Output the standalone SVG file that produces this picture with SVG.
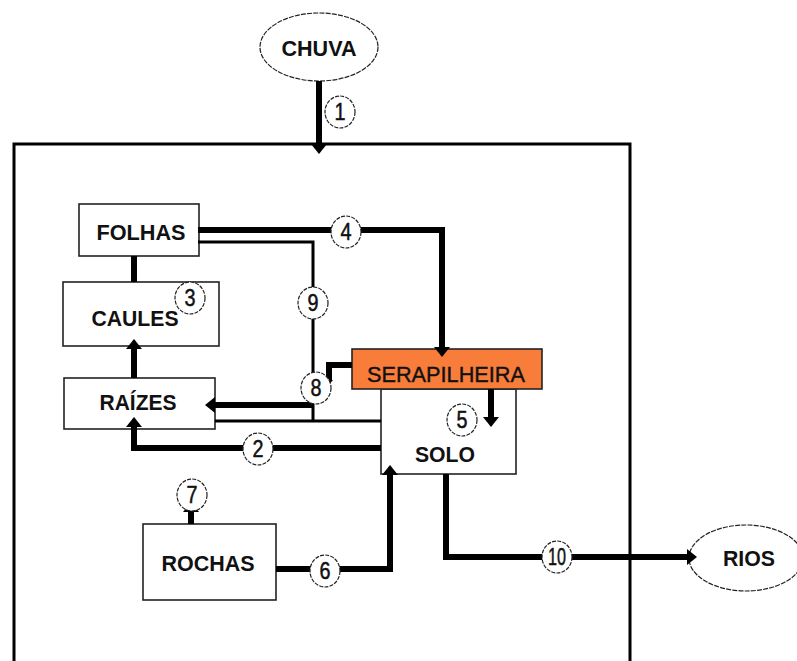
<svg xmlns="http://www.w3.org/2000/svg" width="797" height="661" viewBox="0 0 797 661">
<style>
.bg{fill:#fff}
.box{fill:#fff;stroke:#222;stroke-width:1.6}
.ser{fill:#F87D3B;stroke:#222;stroke-width:1.6}
.ell{fill:#fff;stroke:#222;stroke-width:1.2;stroke-dasharray:5 1.2}
.lbl{font-family:"Liberation Sans",Arial,sans-serif;font-weight:bold;font-size:22px;fill:#111;text-anchor:middle}
.serl{font-family:"Liberation Sans",Arial,sans-serif;font-size:22px;fill:#111;stroke:#111;stroke-width:0.4;text-anchor:middle}
.thick{fill:none;stroke:#000;stroke-width:6}
.thin{fill:none;stroke:#000;stroke-width:3}
.frame{fill:none;stroke:#000;stroke-width:3}
.num{fill:#fff;stroke:#222;stroke-width:1.2;stroke-dasharray:4 1.2}
.numt{font-family:"Liberation Sans",Arial,sans-serif;font-size:23px;fill:#111;stroke:#111;stroke-width:0.5;text-anchor:middle}
</style>
<defs>
<marker id="ah" markerUnits="userSpaceOnUse" markerWidth="10" markerHeight="16" viewBox="0 0 10 16" refX="0" refY="8" orient="auto">
<path d="M0,0 L10,8 L0,16 z" fill="#000"/>
</marker>
<marker id="ahs" markerUnits="userSpaceOnUse" markerWidth="5" markerHeight="8" viewBox="0 0 5 8" refX="0" refY="4" orient="auto">
<path d="M0,0 L5,4 L0,8 z" fill="#000"/>
</marker>
</defs>
<rect class="bg" x="0" y="0" width="797" height="661"/>
<path class="frame" d="M14,670 V144 H630 V670"/>

<g id="chuva"><ellipse class="ell" cx="319" cy="47" rx="59" ry="34"/><text class="lbl" x="319" y="56" textLength="75" lengthAdjust="spacingAndGlyphs">CHUVA</text></g>
<g id="rios"><ellipse class="ell" cx="746" cy="558" rx="57" ry="33"/><text class="lbl" x="749" y="566" textLength="52" lengthAdjust="spacingAndGlyphs">RIOS</text></g>
<g id="folhas"><rect class="box" x="79" y="204" width="120" height="52"/><text class="lbl" x="141" y="240" textLength="89" lengthAdjust="spacingAndGlyphs">FOLHAS</text></g>
<g id="caules"><rect class="box" x="63" y="282" width="156" height="64"/><text class="lbl" x="135" y="326" textLength="87" lengthAdjust="spacingAndGlyphs">CAULES</text></g>
<g id="raizes"><rect class="box" x="64" y="378" width="151" height="51"/><text class="lbl" x="138" y="410" textLength="77" lengthAdjust="spacingAndGlyphs">RAÍZES</text></g>
<g id="solo"><rect class="box" x="381" y="389" width="135" height="85"/><text class="lbl" x="445" y="462" font-size="20" textLength="60" lengthAdjust="spacingAndGlyphs">SOLO</text></g>
<g id="serapilheira"><rect class="ser" x="352" y="349" width="190" height="40"/><text class="serl" x="446" y="382" textLength="158" lengthAdjust="spacingAndGlyphs">SERAPILHEIRA</text></g>
<g id="rochas"><rect class="box" x="143" y="524" width="133" height="76"/><text class="lbl" x="208" y="571" textLength="93" lengthAdjust="spacingAndGlyphs">ROCHAS</text></g>

<g id="connectors">
<path class="thick" d="M319,81 V144" marker-end="url(#ah)"/>
<path class="thick" d="M198,230 H442 V347" marker-end="url(#ah)"/>
<path class="thin" d="M198,242 H313 V421"/>
<path class="thin" d="M215,421 H381"/>
<path class="thick" d="M352,365 H329 V380" marker-end="url(#ahs)"/>
<path class="thick" d="M313,405 H215" marker-end="url(#ah)"/>
<path class="thick" d="M381,448 H134 V427" marker-end="url(#ah)"/>
<path class="thick" d="M134,256 V282"/>
<path class="thick" d="M134,378 V349" marker-end="url(#ah)"/>
<path class="thick" d="M491,389 V417" marker-end="url(#ah)"/>
<path class="thick" d="M276,569 H390 V475" marker-end="url(#ah)"/>
<path class="thick" d="M191,524 V512" marker-end="url(#ah)"/>
<path class="thick" d="M446,474 V557 H687" marker-end="url(#ah)"/>

<ellipse class="num" cx="340" cy="112" rx="15" ry="16"/><text class="numt" x="340" y="120" textLength="11" lengthAdjust="spacingAndGlyphs">1</text>
<ellipse class="num" cx="258" cy="449" rx="15" ry="16"/><text class="numt" x="258" y="457" textLength="11" lengthAdjust="spacingAndGlyphs">2</text>
<ellipse class="num" cx="190" cy="298" rx="15" ry="16"/><text class="numt" x="190" y="306" textLength="11" lengthAdjust="spacingAndGlyphs">3</text>
<ellipse class="num" cx="346" cy="232" rx="15" ry="16"/><text class="numt" x="346" y="240" textLength="11" lengthAdjust="spacingAndGlyphs">4</text>
<ellipse class="num" cx="462" cy="420" rx="15" ry="16"/><text class="numt" x="462" y="428" textLength="11" lengthAdjust="spacingAndGlyphs">5</text>
<ellipse class="num" cx="325" cy="571" rx="15" ry="16"/><text class="numt" x="325" y="579" textLength="11" lengthAdjust="spacingAndGlyphs">6</text>
<ellipse class="num" cx="192" cy="495" rx="15" ry="16"/><text class="numt" x="192" y="503" textLength="11" lengthAdjust="spacingAndGlyphs">7</text>
<ellipse class="num" cx="316" cy="388" rx="15" ry="16"/><text class="numt" x="316" y="396" textLength="11" lengthAdjust="spacingAndGlyphs">8</text>
<ellipse class="num" cx="313" cy="303" rx="15" ry="16"/><text class="numt" x="313" y="311" textLength="11" lengthAdjust="spacingAndGlyphs">9</text>
<ellipse class="num" cx="557" cy="557" rx="15" ry="16"/><text class="numt" x="557" y="565" textLength="18" lengthAdjust="spacingAndGlyphs">10</text>
</g>
</svg>
